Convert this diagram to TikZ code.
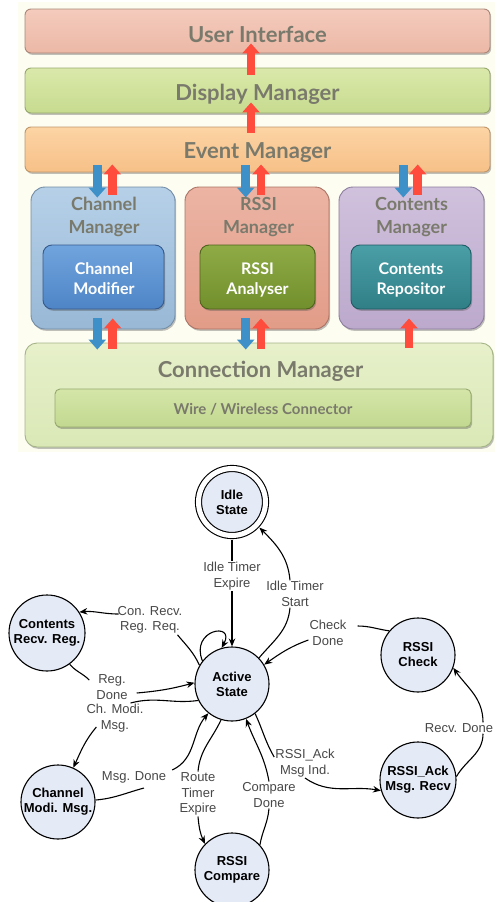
\documentclass[tikz,border=0pt]{standalone}
\usepackage{fontspec}
\setmainfont{Liberation Sans}
\newfontfamily\tfont{Lato}
\usetikzlibrary{arrows.meta,shadows,calc}
\definecolor{cream}{RGB}{253,253,242}
\definecolor{ttlgray}{RGB}{122,122,108}
\definecolor{uiT}{RGB}{244,203,189}\definecolor{uiB}{RGB}{236,184,166}\definecolor{uiD}{RGB}{170,135,120}
\definecolor{dpT}{RGB}{218,233,170}\definecolor{dpB}{RGB}{199,219,143}\definecolor{dpD}{RGB}{150,168,110}
\definecolor{evT}{RGB}{252,212,164}\definecolor{evB}{RGB}{247,192,136}\definecolor{evD}{RGB}{190,150,105}
\definecolor{chT}{RGB}{182,208,232}\definecolor{chB}{RGB}{152,184,214}\definecolor{chD}{RGB}{115,140,165}
\definecolor{rsT}{RGB}{236,180,164}\definecolor{rsB}{RGB}{226,156,136}\definecolor{rsD}{RGB}{170,115,100}
\definecolor{coT}{RGB}{208,193,221}\definecolor{coB}{RGB}{188,169,204}\definecolor{coD}{RGB}{140,125,158}
\definecolor{cmT}{RGB}{112,164,222}\definecolor{cmB}{RGB}{78,133,198}\definecolor{cmD}{RGB}{55,90,140}
\definecolor{raT}{RGB}{142,171,70}\definecolor{raB}{RGB}{113,143,44}\definecolor{raD}{RGB}{78,100,28}
\definecolor{crT}{RGB}{74,158,166}\definecolor{crB}{RGB}{48,127,135}\definecolor{crD}{RGB}{32,92,100}
\definecolor{cnT}{RGB}{231,240,202}\definecolor{cnB}{RGB}{218,232,182}\definecolor{cnD}{RGB}{165,180,135}
\definecolor{wrT}{RGB}{213,230,168}\definecolor{wrB}{RGB}{194,216,144}\definecolor{wrD}{RGB}{150,168,110}
\definecolor{redc}{RGB}{255,76,60}
\definecolor{bluec}{RGB}{62,145,200}
\definecolor{stfill}{RGB}{228,234,246}
\definecolor{lblgray}{RGB}{72,72,72}
\tikzset{
  bar/.style={rectangle, inner sep=0pt, line width=0.9pt,
    drop shadow={shadow xshift=1.2pt, shadow yshift=-1.8pt, opacity=0.35, fill=black!70}},
  ttl/.style={anchor=base, text=ttlgray, inner sep=0pt, font=\tfont\bfseries\fontsize{22}{26}\selectfont},
  subt/.style={anchor=base, text=ttlgray, inner sep=0pt, font=\tfont\bfseries\fontsize{18}{22}\selectfont},
  innt/.style={anchor=base, text=white, inner sep=0pt, font=\tfont\bfseries\fontsize{16}{20}\selectfont},
  redarr/.style={draw=redc, line width=8.5pt, -{Triangle[width=17pt,length=10pt]}},
  bluearr/.style={draw=bluec, line width=8.5pt, -{Triangle[width=17pt,length=10pt]}},
  stt/.style={circle, draw=black, line width=1.1pt, fill=stfill, minimum size=74pt, inner sep=0pt,
    align=center, font=\bfseries\fontsize{13}{15}\selectfont},
  lbl/.style={align=center, inner sep=1pt, text=lblgray, font=\fontsize{13}{15.5}\selectfont},
  ln/.style={line width=1.1pt, draw=black},
  lnarr/.style={ln, -{Stealth[length=8pt,width=6.5pt]}},
}
\begin{document}
\begin{tikzpicture}[x=1pt,y=1pt]
\useasboundingbox (0,0) rectangle (495,-902);
\clip (0,0) rectangle (495,-902);
\fill[white] (0,0) rectangle (495,-902);
\fill[cream] (18,-2) rectangle (495,-452);

% ---------- layered architecture ----------
\node[bar, rounded corners=6pt, top color=uiT, bottom color=uiB, draw=uiD, minimum width=465pt, minimum height=44pt] (ui) at (257.5,-31) {};
\node[bar, rounded corners=6pt, top color=dpT, bottom color=dpB, draw=dpD, minimum width=465pt, minimum height=45pt] (display) at (257.5,-90.5) {};
\node[bar, rounded corners=6pt, top color=evT, bottom color=evB, draw=evD, minimum width=465pt, minimum height=45pt] (event) at (257.5,-149.5) {};
\node[bar, rounded corners=14pt, top color=chT, bottom color=chB, draw=chD, minimum width=144pt, minimum height=142pt] (chanmgr) at (103,-258) {};
\node[bar, rounded corners=14pt, top color=rsT, bottom color=rsB, draw=rsD, minimum width=144pt, minimum height=142pt] (rssimgr) at (257,-258) {};
\node[bar, rounded corners=14pt, top color=coT, bottom color=coB, draw=coD, minimum width=145pt, minimum height=142pt] (contmgr) at (411.5,-258) {};
\node[bar, rounded corners=9pt, top color=cmT, bottom color=cmB, draw=cmD, minimum width=121pt, minimum height=64pt] (chanmod) at (103.5,-277) {};
\node[bar, rounded corners=9pt, top color=raT, bottom color=raB, draw=raD, minimum width=115pt, minimum height=64pt] (rssiana) at (257.5,-277) {};
\node[bar, rounded corners=9pt, top color=crT, bottom color=crB, draw=crD, minimum width=120pt, minimum height=64pt] (contrep) at (411,-277) {};
\node[bar, rounded corners=12pt, top color=cnT, bottom color=cnB, draw=cnD, minimum width=468pt, minimum height=104pt] (connmgr) at (259,-395) {};
\node[bar, rounded corners=5pt, top color=wrT, bottom color=wrB, draw=wrD, minimum width=416pt, minimum height=38pt] (wire) at (263,-408) {};

\node[ttl] (ui-t) at (257.5,-42) {User Interface};
\node[ttl] (display-t) at (257.5,-100) {Display Manager};
\node[ttl] (event-t) at (257.5,-158) {Event Manager};
\node[subt] (chanmgr-t1) at (104,-210) {Channel};
\node[subt] (chanmgr-t2) at (104,-233) {Manager};
\node[subt] (rssimgr-t1) at (258.5,-210) {RSSI};
\node[subt] (rssimgr-t2) at (258.5,-233) {Manager};
\node[subt] (contmgr-t1) at (411.5,-210) {Contents};
\node[subt] (contmgr-t2) at (411.5,-233) {Manager};
\node[innt] (chanmod-t1) at (104,-274) {Channel};
\node[innt] (chanmod-t2) at (104,-294) {Modifier};
\node[innt] (rssiana-t1) at (257.5,-274) {RSSI};
\node[innt] (rssiana-t2) at (257.5,-294) {Analyser};
\node[innt] (contrep-t1) at (411,-274) {Contents};
\node[innt] (contrep-t2) at (411,-294) {Repositor};
\node[ttl] (connmgr-t) at (260.5,-377) {Connection Manager};
\node[anchor=base, text=ttlgray, inner sep=0pt, font=\tfont\bfseries\fontsize{15}{18}\selectfont] (wire-t) at (263,-414) {Wire / Wireless Connector};

% block arrows
\draw[redarr] ($(display.north)+(-6.5,-7)$) -- ($(ui.south)+(-6.5,10)$);
\draw[redarr] ($(event.north)+(-6.5,-6)$) -- ($(display.south)+(-6.5,11)$);
\draw[bluearr] ($(event.south -| chanmgr.north)+(-5.7,7)$) -- ($(chanmgr.north)+(-5.7,-11)$);
\draw[redarr] ($(chanmgr.north)+(9.3,-8)$) -- ($(event.south -| chanmgr.north)+(9.3,8)$);
\draw[bluearr] ($(event.south -| rssimgr.north)+(-11.3,7)$) -- ($(rssimgr.north)+(-11.3,-11)$);
\draw[redarr] ($(rssimgr.north)+(4,-8)$) -- ($(event.south -| rssimgr.north)+(4,8)$);
\draw[bluearr] ($(event.south -| contmgr.north)+(-8.2,7)$) -- ($(contmgr.north)+(-8.2,-11)$);
\draw[redarr] ($(contmgr.north)+(6.2,-8)$) -- ($(event.south -| contmgr.north)+(6.2,8)$);
\draw[bluearr] ($(chanmgr.south)+(-5.7,11)$) -- ($(connmgr.north -| chanmgr.south)+(-5.7,-7)$);
\draw[redarr] ($(connmgr.north -| chanmgr.south)+(9.7,-6)$) -- ($(chanmgr.south)+(9.7,11)$);
\draw[bluearr] ($(rssimgr.south)+(-11.3,11)$) -- ($(connmgr.north -| rssimgr.south)+(-11.3,-7)$);
\draw[redarr] ($(connmgr.north -| rssimgr.south)+(4,-6)$) -- ($(rssimgr.south)+(4,11)$);
\draw[redarr] ($(connmgr.north -| contmgr.south)+(-2.5,-5)$) -- ($(contmgr.south)+(-2.5,11)$);

% ---------- state diagram ----------
\node[stt, minimum size=67pt, double, double distance=5pt, outer sep=4pt] (idle) at (232,-502) {Idle\\State};
\node[stt] (active) at (232,-684) {Active\\State};
\node[stt, minimum size=76pt] (contents) at (47,-633) {Contents\\Recv. Reg.};
\node[stt] (channel) at (58,-802) {Channel\\Modi. Msg.};
\node[stt] (compare) at (232,-870) {RSSI\\Compare};
\node[stt] (check) at (418,-655) {RSSI\\Check};
\node[stt, minimum size=76pt] (ack) at (418,-780) {RSSI\_Ack\\Msg. Recv};

\node[lbl] (lexp) at (232,-576) {Idle Timer\\Expire};
\node[lbl] (lstart) at (295,-594) {Idle Timer\\Start};
\node[lbl] (lcon) at (150,-620) {Con. Recv.\\Reg. Req.};
\node[lbl] (lreg) at (112,-687) {Reg.\\Done};
\node[lbl] (lch) at (115,-718) {Ch. Modi.\\Msg.};
\node[lbl] (lmsg) at (134,-777) {Msg. Done};
\node[lbl] (lroute) at (198,-794) {Route\\Timer\\Expire};
\node[lbl] (lcomp) at (269,-795) {Compare\\Done};
\node[lbl] (lack) at (305,-763) {RSSI\_Ack\\Msg Ind.};
\node[lbl] (lrecv) at (459,-728) {Recv. Done};
\node[lbl] (lcheck) at (328,-633) {Check\\Done};

% Idle Timer Expire
\draw[ln] (idle.south) -- (lexp.north);
\draw[lnarr] (lexp.south) -- (active.north);
% Idle Timer Start
\draw[ln] (active.44) to[out=50,in=-95] ([xshift=-5pt]lstart.south);
\draw[lnarr] ([xshift=-5pt]lstart.north) to[out=95,in=-45] (idle.-43);
% self loop
\draw[lnarr] (active.142) .. controls +(112:34) and +(62:30) .. (active.106);
% Con. Recv. Reg. Req.
\draw[ln] (active.150) to[out=115,in=-50] ([xshift=-6pt]lcon.south east);
\draw[lnarr] ([xshift=2pt,yshift=6pt]lcon.west) to[out=180,in=5] (contents.33);
% Reg. Done
\draw[ln] (contents.-54) to[out=-50,in=135] ([xshift=-6pt,yshift=7pt]lreg.west);
\draw[lnarr] ([xshift=8pt,yshift=-6pt]lreg.east) to[out=5,in=195] (active.178);
% Ch. Modi. Msg.
\draw[ln] (active.206) to[out=188,in=15] ([xshift=-14pt]lch.north east);
\draw[lnarr] ([xshift=11pt,yshift=6pt]lch.south west) to[out=230,in=65] (channel.66);
% Msg. Done
\draw[ln] (channel.3) to[out=5,in=195] ([xshift=10pt,yshift=-4pt]lmsg.south);
\draw[lnarr] ([xshift=5pt]lmsg.north east) to[out=25,in=-130] (active.231);
% Route Timer Expire
\draw[ln] (active.253) to[out=245,in=85] (lroute.north);
\draw[lnarr] (lroute.south) to[out=-85,in=115] (compare.136);
% Compare Done
\draw[ln] (compare.42) to[out=80,in=-95] (lcomp.south);
\draw[lnarr] (lcomp.north) to[out=100,in=-70] (active.292);
% RSSI_Ack Msg Ind.
\draw[ln] (active.308) to[out=-65,in=120] ([yshift=6pt]lack.west);
\draw[lnarr] (lack.south) to[out=-35,in=170] (ack.196);
% Recv. Done
\draw[ln] (ack.5) to[out=60,in=-90] ([xshift=24pt]lrecv.south);
\draw[lnarr] ([xshift=24pt]lrecv.north) to[out=90,in=-55] (check.-20);
% Check Done
\draw[ln] (check.140) to[out=172,in=0] ([xshift=10pt,yshift=7pt]lcheck.east);
\draw[lnarr] ([yshift=-7pt]lcheck.west) to[out=200,in=35] (active.31);
\end{tikzpicture}
\end{document}
